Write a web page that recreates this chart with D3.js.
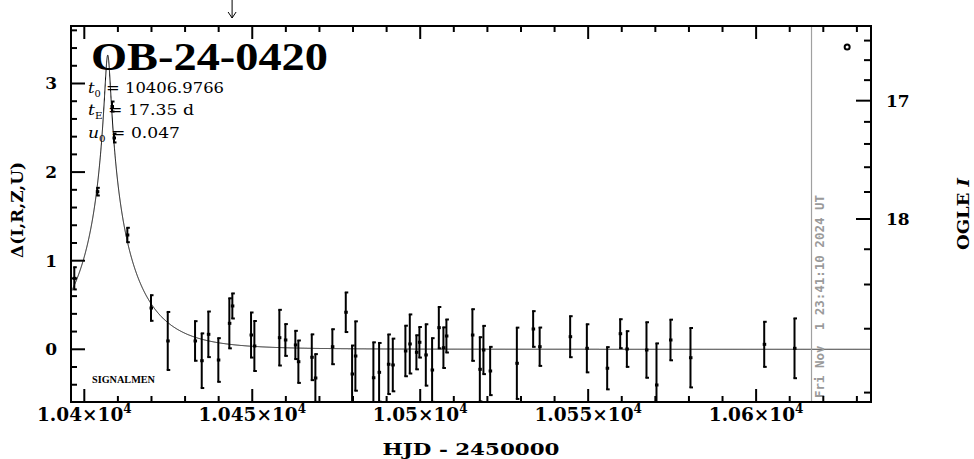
<!DOCTYPE html>
<html><head><meta charset="utf-8">
<script src="https://cdn.jsdelivr.net/npm/d3@7"></script>
<style>body{margin:0;background:#fff;} svg{display:block}</style>
</head><body>
<svg id="chart" width="974" height="459"></svg>
<script>
// ---- data (HJD-2450000, Delta, error) ----
const obsT = [10397.02,10403.87,10408.25,10408.84,10412.81,10419.86,10424.84,10432.97,10434.96,10436.93,
  10439.90,10443.18,10444.07,10449.64,10450.63,10458.07,10459.86,10462.83,10463.73,10467.72,
  10468.79,10473.85,10477.84,10479.72,10480.70,10486.06,10487.76,10490.53,10491.84,10495.59,
  10496.90,10498.87,10499.76,10501.67,10503.54,10505.54,10506.91,10507.80,10515.54,10517.75,
  10518.82,10520.82,10528.77,10533.62,10535.56,10544.64,10549.61,10555.66,10559.53,10561.52,
  10567.36,10570.34,10574.51,10580.46,10602.41,10611.43];
const obsDelta = [0.801,1.779,2.740,2.385,1.290,0.466,0.094,0.094,-0.129,0.169,
  -0.121,0.293,0.489,0.161,0.037,0.131,0.105,0.049,-0.140,-0.090,
  -0.324,0.029,0.418,-0.279,-0.076,-0.321,-0.260,-0.169,-0.177,-0.019,
  0.060,-0.034,0.079,-0.064,-0.234,0.244,0.018,0.150,0.161,-0.226,
  -0.008,-0.245,-0.158,0.229,0.029,0.142,0.011,-0.214,0.176,0.003,
  -0.008,-0.403,0.105,-0.095,0.056,0.011];
const obsErr = [0.131,0.049,0.062,0.056,0.087,0.150,0.333,0.229,0.314,0.263,
  0.252,0.288,0.147,0.260,0.288,0.320,0.185,0.165,0.245,0.264,
  0.275,0.203,0.229,0.327,0.397,0.405,0.337,0.342,0.303,0.291,
  0.339,0.198,0.178,0.352,0.365,0.239,0.235,0.192,0.297,0.368,
  0.278,0.278,0.408,0.207,0.222,0.237,0.277,0.244,0.169,0.207,
  0.319,0.475,0.235,0.341,0.260,0.343];

// model parameters shown on the chart
const modelT0 = 10406.9766, modelTE = 17.35, modelU0 = 0.047;

// axes
const xDomain = [10396.04, 10634.2];
const yDomain = [-0.595, 3.649];
const xMajorTicks = [10400, 10450, 10500, 10550, 10600];
const xMajorMantissa = ["1.04", "1.045", "1.05", "1.055", "1.06"];
const xMinorStep = 10;
const yMajorTicks = [0, 1, 2, 3];
const yMinorStep = 0.2;
const rightMagTicks = [16.4,16.6,16.8,17.0,17.2,17.4,17.6,17.8,18.0,18.2,18.4,18.6,18.8];
const rightMagLabels = [17, 18];
const oglBaseMag = 18.675, oglBlend = 0.30;

const nowT = 10616.49;       // Fri Nov 1 23:41:10 2024 UT
const nowLabel = "Fri Nov  1 23:41:10 2024 UT";
const arrowT = 10444.0;
const symbolT = 10627.1, symbolDelta = 3.412;

// ---- drawing ----
const svg = d3.select("#chart");
const L = 71, R = 871, T = 26, B = 402;
const x = d3.scaleLinear().domain(xDomain).range([L, R]);
const y = d3.scaleLinear().domain(yDomain).range([B, T]);
const serif = "'DejaVu Serif', serif";

svg.append("rect").attr("width", 974).attr("height", 459).attr("fill", "#fff");
svg.append("clipPath").attr("id", "clip").append("rect")
  .attr("x", L).attr("y", T).attr("width", R - L).attr("height", B - T);

const plot = svg.append("g").attr("clip-path", "url(#clip)");

// model curve
const magn = u => (u*u + 2) / (u * Math.sqrt(u*u + 4));
const modelDelta = t => {
  const tau = (t - modelT0) / modelTE;
  return 2.5 * Math.log10(magn(Math.sqrt(modelU0*modelU0 + tau*tau)));
};
const tGrid = d3.range(xDomain[0], xDomain[1], 0.02);
plot.append("path")
  .attr("d", d3.line().x(t => x(t)).y(t => y(modelDelta(t)))(tGrid))
  .attr("fill", "none").attr("stroke", "#000").attr("stroke-width", 1);

// "now" line
svg.append("line").attr("x1", x(nowT)).attr("x2", x(nowT)).attr("y1", T).attr("y2", B)
  .attr("stroke", "#a0a0a0").attr("stroke-width", 1.2);
svg.append("text")
  .attr("transform", `translate(${x(nowT) + 12},${B - 4}) rotate(-90)`)
  .attr("font-family", "'DejaVu Sans Mono', monospace").attr("font-weight", "bold")
  .attr("font-size", 11.5).attr("fill", "#9a9a9a")
  .attr("textLength", 203).attr("lengthAdjust", "spacingAndGlyphs")
  .style("white-space", "pre").text(nowLabel);

// data points with error bars
const pts = obsT.map((t, i) => ({t, d: obsDelta[i], e: obsErr[i]}));
const g = plot.selectAll("g.pt").data(pts).join("g").attr("class", "pt");
g.append("line")
  .attr("x1", p => x(p.t)).attr("x2", p => x(p.t))
  .attr("y1", p => y(p.d + p.e)).attr("y2", p => y(p.d - p.e))
  .attr("stroke", "#000").attr("stroke-width", 2);
g.append("line")
  .attr("x1", p => x(p.t) - 1).attr("x2", p => x(p.t) + 2.5)
  .attr("y1", p => y(p.d + p.e) + 0.5).attr("y2", p => y(p.d + p.e) + 0.5)
  .attr("stroke", "#000").attr("stroke-width", 2);
g.append("line")
  .attr("x1", p => x(p.t) - 1).attr("x2", p => x(p.t) + 2.5)
  .attr("y1", p => y(p.d - p.e) - 0.5).attr("y2", p => y(p.d - p.e) - 0.5)
  .attr("stroke", "#000").attr("stroke-width", 2);
g.append("rect")
  .attr("x", p => x(p.t) - 1.5).attr("y", p => y(p.d) - 1.5)
  .attr("width", 3.5).attr("height", 3).attr("fill", "#000");

// frame
svg.append("rect").attr("x", L).attr("y", T).attr("width", R - L).attr("height", B - T)
  .attr("fill", "none").attr("stroke", "#000").attr("stroke-width", 2);

// x ticks (bottom & top)
const xAll = d3.range(Math.ceil(xDomain[0] / xMinorStep) * xMinorStep, xDomain[1], xMinorStep);
xAll.forEach(t => {
  const major = xMajorTicks.includes(t);
  const len = major ? 13 : 6;
  svg.append("line").attr("x1", x(t)).attr("x2", x(t)).attr("y1", B).attr("y2", B - len)
    .attr("stroke", "#000").attr("stroke-width", 2);
  svg.append("line").attr("x1", x(t)).attr("x2", x(t)).attr("y1", T).attr("y2", T + len)
    .attr("stroke", "#000").attr("stroke-width", 2);
});
xMajorTicks.forEach((t, i) => {
  const tx = svg.append("text").attr("x", x(t)).attr("y", 421)
    .attr("text-anchor", "middle").attr("font-family", serif).attr("font-weight", "bold")
    .attr("font-size", 18.5);
  tx.append("tspan").text(xMajorMantissa[i] + "×10");
  tx.append("tspan").attr("dy", -8).attr("font-size", 12).text("4");
});
svg.append("text").attr("x", (L + R) / 2).attr("y", 455).attr("text-anchor", "middle")
  .attr("font-family", serif).attr("font-weight", "bold").attr("font-size", 17)
  .attr("textLength", 177).attr("lengthAdjust", "spacingAndGlyphs")
  .style("white-space", "pre").text("HJD - 2450000");

// left y ticks
const yAll = d3.range(Math.ceil(yDomain[0] / yMinorStep) * yMinorStep, yDomain[1], yMinorStep)
  .map(v => Math.round(v * 10) / 10);
yAll.forEach(v => {
  const major = yMajorTicks.includes(v);
  svg.append("line").attr("x1", L).attr("x2", L + (major ? 14 : 6))
    .attr("y1", y(v)).attr("y2", y(v)).attr("stroke", "#000").attr("stroke-width", 2);
});
yMajorTicks.forEach(v => {
  svg.append("text").attr("x", 57).attr("y", y(v) + 6).attr("text-anchor", "end")
    .attr("font-family", serif).attr("font-weight", "bold").attr("font-size", 17).text(v);
});
svg.append("text").attr("transform", "translate(23,210) rotate(-90)")
  .attr("text-anchor", "middle").attr("font-family", serif).attr("font-weight", "bold")
  .attr("font-size", 16).attr("textLength", 96).attr("lengthAdjust", "spacingAndGlyphs")
  .text("Δ(I,R,Z,U)");

// right axis: OGLE I magnitudes
const deltaFromMag = m => 2.5 * Math.log10(1 + (Math.pow(10, -0.4 * (m - oglBaseMag)) - 1) / oglBlend);
rightMagTicks.forEach(m => {
  const major = rightMagLabels.includes(m);
  svg.append("line").attr("x1", R).attr("x2", R - (major ? 15 : 7))
    .attr("y1", y(deltaFromMag(m))).attr("y2", y(deltaFromMag(m)))
    .attr("stroke", "#000").attr("stroke-width", 2);
});
rightMagLabels.forEach(m => {
  svg.append("text").attr("x", 886).attr("y", y(deltaFromMag(m)) + 6)
    .attr("font-family", serif).attr("font-weight", "bold").attr("font-size", 17).text(m);
});
const ogl = svg.append("text").attr("transform", "translate(969,214) rotate(-90)")
  .attr("text-anchor", "middle").attr("font-family", serif).attr("font-weight", "bold")
  .attr("font-size", 16).attr("textLength", 72).attr("lengthAdjust", "spacingAndGlyphs");
ogl.append("tspan").text("OGLE ");
ogl.append("tspan").attr("font-style", "italic").text("I");

// symbol
svg.append("circle").attr("cx", x(symbolT)).attr("cy", y(symbolDelta)).attr("r", 2.5)
  .attr("fill", "none").attr("stroke", "#000").attr("stroke-width", 2);

// arrow
const ax = x(arrowT);
svg.append("line").attr("x1", ax).attr("x2", ax).attr("y1", 0).attr("y2", 18)
  .attr("stroke", "#000").attr("stroke-width", 1);
svg.append("path").attr("d", `M${ax - 4},${12} L${ax},${18} L${ax + 4},${12}`)
  .attr("fill", "none").attr("stroke", "#000").attr("stroke-width", 1);

// title & parameters
svg.append("text").attr("x", 91).attr("y", 70)
  .attr("font-family", "'Liberation Serif', serif").attr("font-weight", "bold").attr("font-size", 40)
  .attr("textLength", 237).attr("lengthAdjust", "spacingAndGlyphs").text("OB-24-0420");

const params = [
  {v: "t", s: "0", rest: " = 10406.9766", yy: 93, w: 136},
  {v: "t", s: "E", rest: " = 17.35 d", yy: 115, w: 106},
  {v: "u", s: "0", rest: " = 0.047", yy: 138, w: 92}
];
params.forEach(p => {
  const t = svg.append("text").attr("x", 88).attr("y", p.yy)
    .attr("font-family", serif).attr("font-size", 15).style("white-space", "pre")
    .attr("textLength", p.w).attr("lengthAdjust", "spacingAndGlyphs");
  t.append("tspan").attr("font-style", "italic").text(p.v);
  t.append("tspan").attr("dy", 4).attr("font-size", 9).text(p.s);
  t.append("tspan").attr("dy", -4).text(p.rest);
});

svg.append("text").attr("x", 92).attr("y", 383)
  .attr("font-family", "'Liberation Serif', serif").attr("font-weight", "bold").attr("font-size", 10)
  .attr("textLength", 63).attr("lengthAdjust", "spacingAndGlyphs").text("SIGNALMEN");
</script>
</body></html>
